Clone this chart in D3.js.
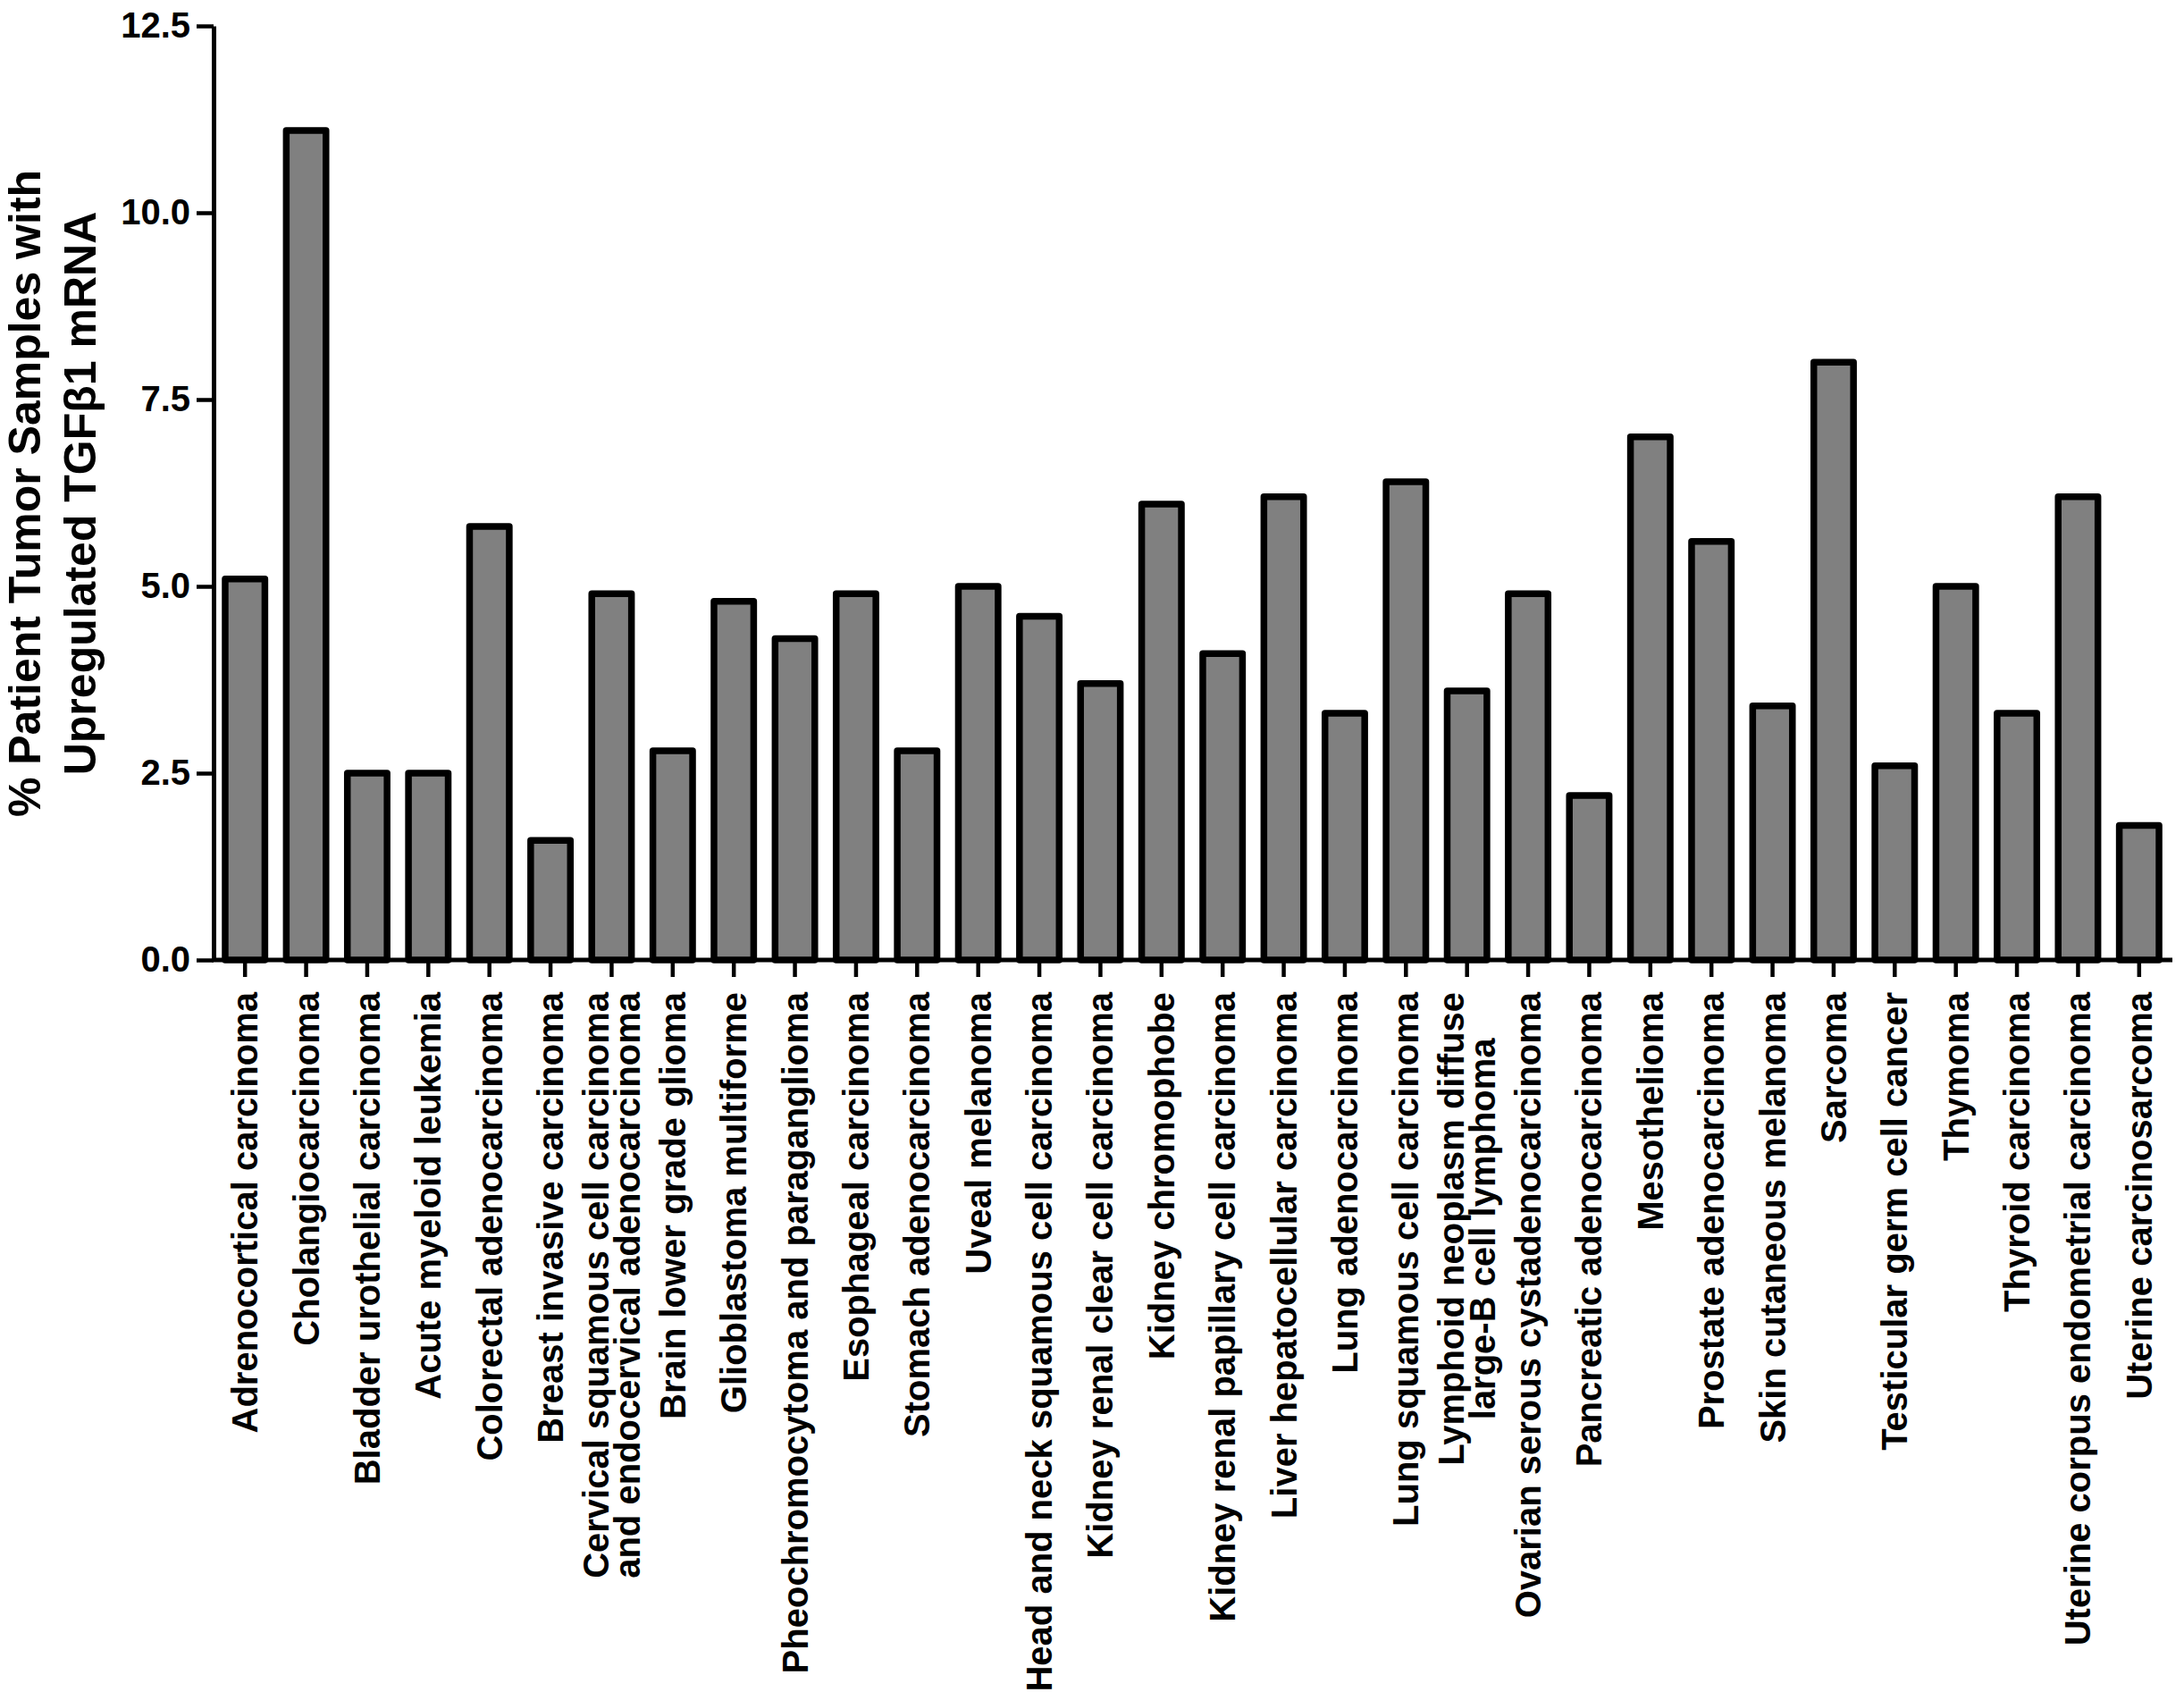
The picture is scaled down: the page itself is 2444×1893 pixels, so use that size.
<!DOCTYPE html>
<html>
<head>
<meta charset="utf-8">
<script src="https://cdn.jsdelivr.net/npm/d3@7/dist/d3.min.js"></script>
<style>
  html, body { margin: 0; padding: 0; background: #fff; }
  svg { display: block; }
  text { font-family: "Liberation Sans", Arial, Helvetica, sans-serif; font-weight: bold; fill: #000; }
</style>
</head>
<body>
<svg id="chart" width="2444" height="1893"></svg>
<script>
const categories = [
  "Adrenocortical carcinoma",
  "Cholangiocarcinoma",
  "Bladder urothelial carcinoma",
  "Acute myeloid leukemia",
  "Colorectal adenocarcinoma",
  "Breast invasive carcinoma",
  "Cervical squamous cell carcinoma\nand endocervical adenocarcinoma",
  "Brain lower grade glioma",
  "Glioblastoma multiforme",
  "Pheochromocytoma and paraganglioma",
  "Esophageal carcinoma",
  "Stomach adenocarcinoma",
  "Uveal melanoma",
  "Head and neck squamous cell carcinoma",
  "Kidney renal clear cell carcinoma",
  "Kidney chromophobe",
  "Kidney renal papillary cell carcinoma",
  "Liver hepatocellular carcinoma",
  "Lung adenocarcinoma",
  "Lung squamous cell carcinoma",
  "Lymphoid neoplasm diffuse\nlarge-B cell lymphoma",
  "Ovarian serous cystadenocarcinoma",
  "Pancreatic adenocarcinoma",
  "Mesothelioma",
  "Prostate adenocarcinoma",
  "Skin cutaneous melanoma",
  "Sarcoma",
  "Testicular germ cell cancer",
  "Thymoma",
  "Thyroid carcinoma",
  "Uterine corpus endometrial carcinoma",
  "Uterine carcinosarcoma"
];
const values = [
  5.1, 11.1, 2.5, 2.5, 5.8, 1.6, 4.9, 2.8, 4.8, 4.3, 4.9, 2.8, 5.0, 4.6, 3.7, 6.1,
  4.1, 6.2, 3.3, 6.4, 3.6, 4.9, 2.2, 7.0, 5.6, 3.4, 8.0, 2.6, 5.0, 3.3, 6.2, 1.8
];
const yTicks = [0, 2.5, 5.0, 7.5, 10.0, 12.5];
const yTitleLines = ["% Patient Tumor Samples with", "Upregulated TGF\u03B21 mRNA"];

const svg = d3.select("#chart");
const x0 = 240, x1 = 2428, yBase = 1074, yTop = 29;

const x = d3.scaleBand().domain(categories).range([x0, x1]).paddingInner(0.35).paddingOuter(0.175);
const y = d3.scaleLinear().domain([0, 12.5]).range([yBase, yTop]);

// bars
svg.append("g").selectAll("rect")
  .data(categories.map((c, i) => ({c, v: values[i]})))
  .join("rect")
  .attr("x", d => x(d.c))
  .attr("width", x.bandwidth())
  .attr("y", d => y(d.v))
  .attr("height", d => yBase - y(d.v))
  .attr("fill", "#808080")
  .attr("stroke", "#000")
  .attr("stroke-width", 7.5)
  .attr("stroke-linejoin", "round");

// y axis
const yAxis = d3.axisLeft(y).tickValues(yTicks).tickFormat(d3.format(".1f"))
  .tickSize(19).tickSizeOuter(0).tickPadding(7);
const gy = svg.append("g").attr("transform", `translate(${x0 - 1},0)`).call(yAxis);
gy.attr("font-family", null);
gy.select(".domain").attr("stroke-width", 5);
gy.selectAll(".tick line").attr("stroke-width", 4.5);
gy.selectAll(".tick text").attr("font-size", 40);

// x axis
const xAxis = d3.axisBottom(x).tickSize(19).tickSizeOuter(0).tickFormat("");
const gx = svg.append("g").attr("transform", `translate(0,${yBase})`).call(xAxis);
gx.attr("font-family", null);
gx.select(".domain").attr("stroke-width", 5).attr("d", `M${x0 - 3},0H${x1 + 3}`);
gx.selectAll(".tick line").attr("stroke-width", 4.5);

// x labels
const labelTop = 1110;
const lineGap = 35;
categories.forEach(c => {
  const lines = c.split("\n");
  const cx = x(c) + x.bandwidth() / 2;
  const t = svg.append("text")
    .attr("transform", `translate(${cx},${labelTop}) rotate(-90)`)
    .attr("font-size", 40);
  if (lines.length === 1) {
    t.attr("text-anchor", "end").attr("dy", "0.35em").text(c);
  } else {
    const spans = lines.map((ln, k) => t.append("tspan")
      .attr("text-anchor", "middle")
      .attr("y", (k - (lines.length - 1) / 2) * lineGap)
      .attr("dy", "0.35em")
      .text(ln));
    const maxLen = d3.max(spans, s => s.node().getComputedTextLength());
    spans.forEach(s => s.attr("x", -maxLen / 2));
  }
});

// y title
const yt = svg.append("text")
  .attr("transform", `translate(0,552) rotate(-90)`)
  .attr("text-anchor", "middle")
  .attr("font-size", 50);
yTitleLines.forEach((ln, k) => {
  yt.append("tspan").attr("x", 0).attr("y", k === 0 ? 45 : 107).text(ln);
});
</script>
</body>
</html>
